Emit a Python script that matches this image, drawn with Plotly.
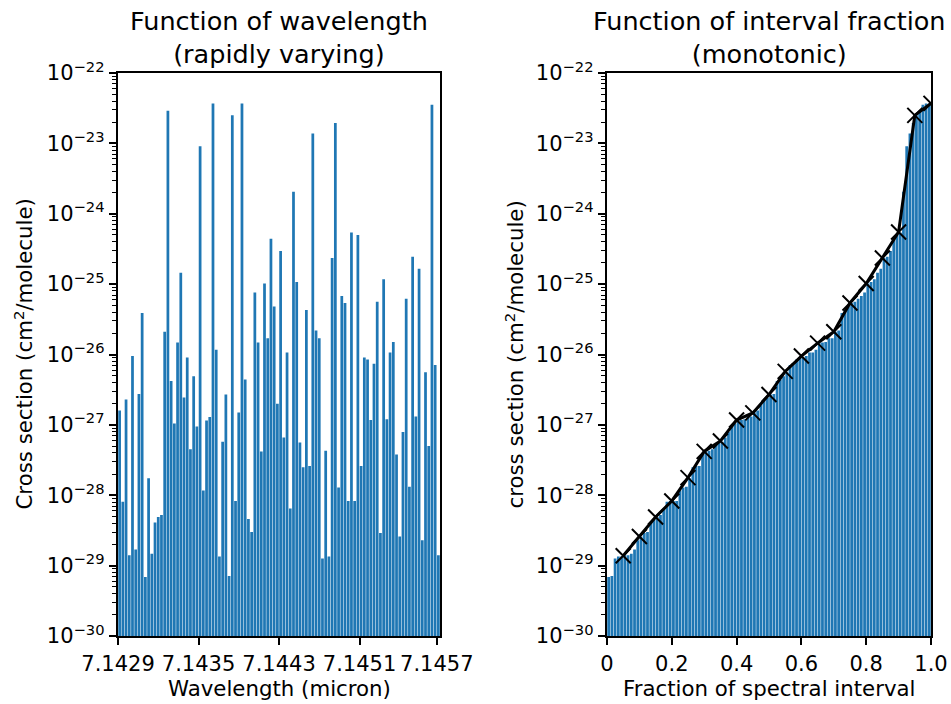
import plotly.graph_objects as go

# Cross sections (cm^2/molecule) for 100 spectral points, in wavelength order
cross_section = [
    1.6e-27, 8.1e-29, 2.3e-27, 1.4e-29, 9.5e-27, 1.7e-29, 2.75e-27, 3.9e-26, 6.9e-30, 1.74e-28,
    1.48e-29, 4.1e-29, 4.9e-29, 5.25e-29, 2.1e-26, 2.9e-23, 4.2e-27, 1.05e-27, 1.48e-26, 1.45e-25,
    2.45e-27, 9.1e-27, 4.5e-28, 4.9e-27, 9.5e-28, 9.1e-24, 1.17e-28, 1.15e-27, 1.29e-27, 3.7e-23,
    1.17e-26, 1.35e-29, 5.75e-28, 2.7e-27, 7.1e-30, 2.5e-23, 8.3e-29, 1.5e-27, 3.7e-23, 4.4e-27,
    4.6e-29, 3.0e-29, 7.6e-26, 1.48e-26, 4.2e-28, 1.02e-25, 1.7e-26, 4.4e-25, 4.8e-26, 2.0e-27,
    2.95e-25, 6.6e-28, 1.07e-26, 6.5e-29, 2.05e-24, 1.07e-25, 5.6e-28, 2.5e-28, 4.3e-26, 2.6e-28,
    1.38e-23, 2.2e-26, 1.7e-26, 1.26e-29, 4.3e-28, 1.35e-29, 2.35e-25, 1.95e-23, 1.29e-28, 6.8e-26,
    5.4e-26, 8.3e-29, 5.4e-25, 8.3e-29, 5.0e-25, 2.6e-28, 9.1e-27, 8.5e-27, 1.17e-27, 7.4e-27,
    5.6e-26, 2.9e-29, 1.17e-25, 1.2e-27, 1.07e-26, 1.5e-26, 3.8e-28, 2.6e-29, 7.9e-28, 6.2e-26,
    1.32e-28, 2.45e-25, 1.32e-27, 1.66e-25, 2.3e-29, 5.6e-27, 5.0e-28, 3.55e-23, 7.1e-27, 1.4e-29,
]

# Wavelength tick labels (micron) at spectral points 0, 25, 50, 75, 99
wl_tick_index = [0, 25, 50, 75, 99]
wl_tick_labels = ["7.1429", "7.1435", "7.1443", "7.1451", "7.1457"]

# Quadrature points on the sorted (monotonic) curve
frac_points = [0.05, 0.10, 0.15, 0.20, 0.25, 0.30, 0.35, 0.40, 0.45, 0.50,
               0.55, 0.60, 0.65, 0.70, 0.75, 0.80, 0.85, 0.90, 0.95, 1.00]
frac_values = [1.38e-29, 2.6e-29, 4.9e-29, 8.3e-29, 1.78e-28, 4.2e-28, 5.9e-28, 1.17e-27, 1.48e-27, 2.7e-27,
               5.75e-27, 9.5e-27, 1.45e-26, 2.1e-26, 5.4e-26, 1.02e-25, 2.35e-25, 5.5e-25, 2.5e-23, 3.7e-23]

frac_ticks = [0, 0.2, 0.4, 0.6, 0.8, 1.0]
frac_tick_labels = ["0", "0.2", "0.4", "0.6", "0.8", "1.0"]

decades = list(range(-30, -21))
y_tickvals = [10.0 ** d for d in decades]
y_ticktext = ["10<sup>\u2212%d</sup>" % (-d) for d in decades]
y_minor = [k * 10.0 ** d for d in decades[:-1] for k in range(2, 10)]

n = len(cross_section)
sorted_cs = sorted(cross_section)

BLUE = "#1f77b4"
FONT = "DejaVu Sans"
TICK_SIZE = 21
LABEL_SIZE = 21.3
TITLE_SIZE = 25.5

fig = go.Figure()
fig.add_trace(go.Bar(
    x=[i + 0.5 for i in range(n)], y=cross_section,
    marker=dict(color=BLUE, line=dict(width=0)),
    xaxis="x", yaxis="y", showlegend=False,
))
fig.add_trace(go.Bar(
    x=[(i + 0.5) / n for i in range(n)], y=sorted_cs,
    marker=dict(color=BLUE, line=dict(width=0)),
    xaxis="x2", yaxis="y2", showlegend=False,
))
fig.add_trace(go.Scatter(
    x=frac_points, y=frac_values, mode="lines+markers",
    line=dict(color="black", width=3),
    marker=dict(symbol="x-thin", size=15, color="black", line=dict(color="black", width=2)),
    xaxis="x2", yaxis="y2", showlegend=False,
))

axis_common = dict(
    showline=True, linecolor="black", linewidth=1.6, mirror=True,
    ticks="outside", ticklen=7.5, tickwidth=1.6, tickcolor="black",
    showgrid=False, zeroline=False, automargin=False,
    tickfont=dict(family=FONT, size=TICK_SIZE, color="black"),
)
yaxis_common = dict(
    axis_common, type="log", range=[-30, -22],
    tickmode="array", tickvals=y_tickvals, ticktext=y_ticktext,
    minor=dict(tickmode="array", tickvals=y_minor, ticks="outside", ticklen=4,
               tickwidth=1.2, tickcolor="black", showgrid=False),
)

W, H = 951, 704
L, R, T, B = 118, 20, 73, 68
pw = W - L - R
left_dom = [0, (440 - L) / pw]
right_dom = [(607 - L) / pw, 1]

fig.update_layout(
    width=W, height=H,
    margin=dict(l=L, r=R, t=T, b=B, autoexpand=False),
    paper_bgcolor="white", plot_bgcolor="white",
    bargap=0.15,
    font=dict(family=FONT, size=20, color="black"),
    xaxis=dict(axis_common, domain=left_dom, range=[0, n],
               tickmode="array", tickvals=wl_tick_index, ticktext=wl_tick_labels),
    yaxis=dict(yaxis_common, anchor="x"),
    xaxis2=dict(axis_common, domain=right_dom, range=[0, 1], anchor="y2",
                tickmode="array", tickvals=frac_ticks, ticktext=frac_tick_labels),
    yaxis2=dict(yaxis_common, anchor="x2"),
)

def px_x(p):
    return (p - L) / pw

ph = H - T - B
annotations = [
    dict(text="Function of wavelength<br>(rapidly varying)", x=sum(left_dom) / 2, y=1,
         xref="paper", yref="paper", xanchor="center", yanchor="bottom", yshift=2,
         showarrow=False, font=dict(family=FONT, size=TITLE_SIZE, color="black")),
    dict(text="Function of interval fraction<br>(monotonic)", x=sum(right_dom) / 2, y=1,
         xref="paper", yref="paper", xanchor="center", yanchor="bottom", yshift=2,
         showarrow=False, font=dict(family=FONT, size=TITLE_SIZE, color="black")),
    dict(text="Wavelength (micron)", x=sum(left_dom) / 2, y=(636 - 689) / ph,
         xref="paper", yref="paper", xanchor="center", yanchor="middle",
         showarrow=False, font=dict(family=FONT, size=LABEL_SIZE, color="black")),
    dict(text="Fraction of spectral interval", x=sum(right_dom) / 2, y=(636 - 689) / ph,
         xref="paper", yref="paper", xanchor="center", yanchor="middle",
         showarrow=False, font=dict(family=FONT, size=LABEL_SIZE, color="black")),
    dict(text="Cross section (cm<sup>2</sup>/molecule)", x=px_x(23), y=0.5, textangle=-90,
         xref="paper", yref="paper", xanchor="center", yanchor="middle",
         showarrow=False, font=dict(family=FONT, size=LABEL_SIZE, color="black")),
    dict(text="cross section (cm<sup>2</sup>/molecule)", x=px_x(514), y=0.5, textangle=-90,
         xref="paper", yref="paper", xanchor="center", yanchor="middle",
         showarrow=False, font=dict(family=FONT, size=LABEL_SIZE, color="black")),
]
fig.update_layout(annotations=annotations)

fig.write_html("out.html")
